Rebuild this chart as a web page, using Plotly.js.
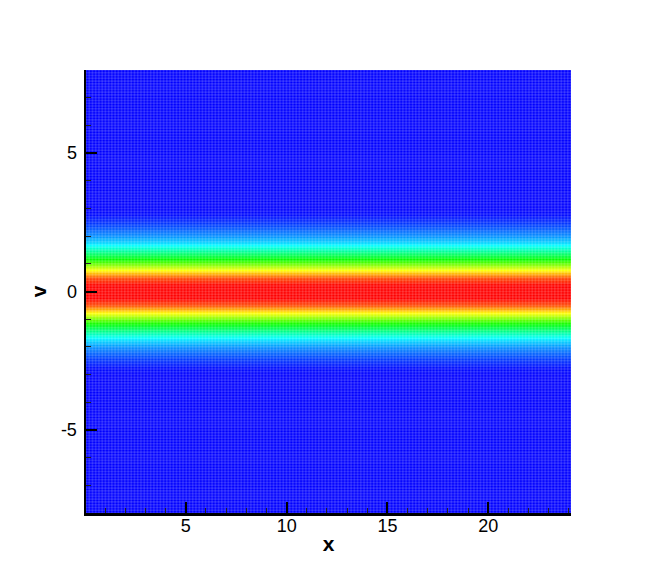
<!DOCTYPE html>
<html><head><meta charset="utf-8">
<script src="https://cdn.plot.ly/plotly-3.0.1.min.js"></script>
<style>html,body{margin:0;padding:0;background:#fff}</style></head>
<body><div id="chart" style="width:650px;height:578px"></div>
<script>
// Values
const xEnds = [0.05, 24.1];
const vRows = [-8,-3.5,-3.25,-3,-2.75,-2.5,-2.25,-2,-1.75,-1.5,-1.25,-1,-0.75,-0.5,-0.25,0,0.25,0.5,0.75,1,1.25,1.5,1.75,2,2.25,2.5,2.75,3,3.25,3.5,8];
const fRows = [0,0,0,0,0.01,0.045,0.09,0.14,0.215,0.33,0.46,0.61,0.77,0.93,1,1,1,0.93,0.77,0.61,0.46,0.33,0.215,0.14,0.09,0.045,0.01,0,0,0,0];
const rainbow = [[0,'#0000ff'],[0.25,'#00ffff'],[0.5,'#00ff00'],[0.75,'#ffff00'],[1,'#ff0000']];
// Computational mesh drawn over the flood
const meshColumns = 150, meshRows = 160;

const zGrid = fRows.map(f => [f, f]);
const vEnds = [-8, 8];
function meshLines(count, ends, horizontal){
  const along = [], across = [];
  for (let i = 0; i <= count; i++){
    const p = ends[0] + (ends[1]-ends[0])*i/count;
    along.push(p, p, null);
    const other = horizontal ? xEnds : vEnds;
    across.push(other[0], other[1], null);
  }
  return horizontal ? {x: across, y: along} : {x: along, y: across};
}
const meshStyle = {type:'scatter', mode:'lines', line:{color:'rgba(255,255,255,0.13)', width:1.6}, hoverinfo:'skip', showlegend:false, cliponaxis:true};
const traces = [
  {type:'heatmap', x:xEnds, y:vRows, z:zGrid, zmin:0, zmax:1, colorscale:rainbow, zsmooth:'best', showscale:false},
  Object.assign({}, meshStyle, meshLines(meshColumns, xEnds, false)),
  Object.assign({}, meshStyle, meshLines(meshRows, vEnds, true))
];
const tickFont = {family:'Liberation Sans, Arial, sans-serif', size:18, color:'#000'};
const titleFont = {family:'Liberation Sans, Arial, sans-serif', size:21, color:'#000', weight:'bold'};
const axisBase = {showgrid:false, zeroline:false, showline:true, linecolor:'#000', linewidth:2.5, ticks:'inside', ticklen:11, tickwidth:2, tickcolor:'#000', tickfont:tickFont, layer:'above traces', mirror:false,
  minor:{dtick:1, ticks:'inside', ticklen:5, tickwidth:1, tickcolor:'#222', showgrid:false}};
const layout = {
  width:650, height:578, margin:{l:86, r:78.5, t:70, b:65, pad:0},
  paper_bgcolor:'#fff', plot_bgcolor:'#fff', showlegend:false,
  xaxis:Object.assign({}, axisBase, {range:xEnds, tickvals:[5,10,15,20], ticktext:['5','10','15','20'], ticklabelstandoff:-5, title:{text:'<b>x</b>', font:titleFont, standoff:1}}),
  yaxis:Object.assign({}, axisBase, {range:vEnds, tickvals:[-5,0,5], ticktext:['-5','0','5'], ticklabelstandoff:3, title:{text:'<b>v</b>', font:titleFont, standoff:9}})
};
Plotly.newPlot('chart', traces, layout, {displayModeBar:false, staticPlot:true});
</script></body></html>
